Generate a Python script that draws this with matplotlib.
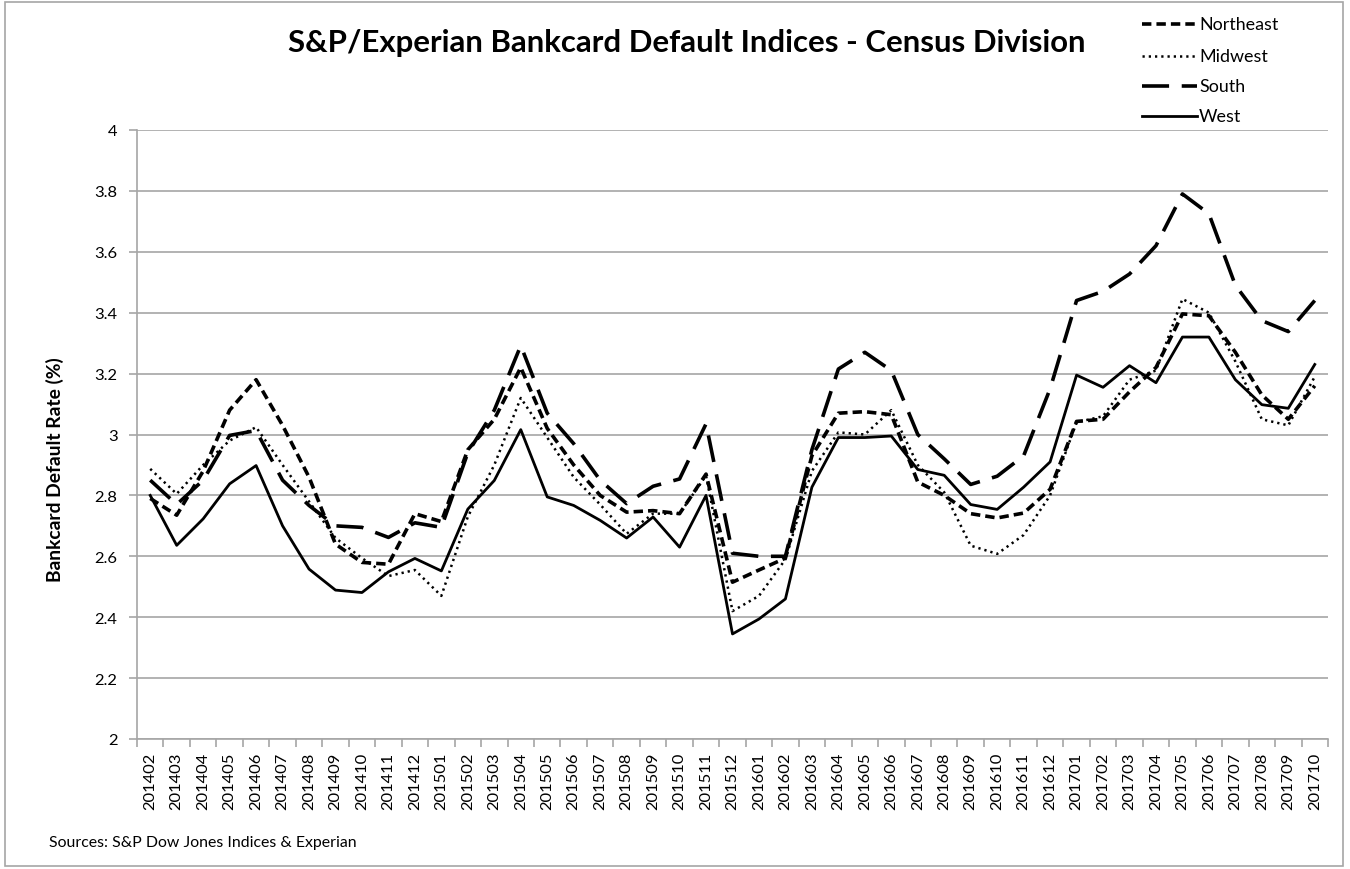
import matplotlib
matplotlib.use("Agg")
import matplotlib.pyplot as plt
from matplotlib.patches import Rectangle
from matplotlib.lines import Line2D

months = ["201402", "201403", "201404", "201405", "201406", "201407", "201408", "201409",
          "201410", "201411", "201412", "201501", "201502", "201503", "201504", "201505",
          "201506", "201507", "201508", "201509", "201510", "201511", "201512", "201601",
          "201602", "201603", "201604", "201605", "201606", "201607", "201608", "201609",
          "201610", "201611", "201612", "201701", "201702", "201703", "201704", "201705",
          "201706", "201707", "201708", "201709", "201710"]

northeast = [2.79, 2.735, 2.88, 3.08, 3.18, 3.03, 2.86, 2.64, 2.58, 2.574, 2.74, 2.714,
             2.95, 3.05, 3.22, 3.02, 2.90, 2.80, 2.745, 2.75, 2.74, 2.87, 2.515, 2.555,
             2.594, 2.93, 3.07, 3.075, 3.065, 2.844, 2.80, 2.74, 2.726, 2.742, 2.82,
             3.043, 3.05, 3.14, 3.22, 3.396, 3.39, 3.27, 3.13, 3.05, 3.16]
midwest = [2.887, 2.805, 2.90, 2.98, 3.024, 2.90, 2.78, 2.66, 2.594, 2.535, 2.555, 2.47,
           2.73, 2.90, 3.12, 2.99, 2.86, 2.77, 2.674, 2.74, 2.74, 2.865, 2.42, 2.47,
           2.59, 2.88, 3.007, 3.0, 3.08, 2.90, 2.81, 2.635, 2.608, 2.67, 2.80,
           3.04, 3.06, 3.18, 3.21, 3.445, 3.40, 3.24, 3.05, 3.03, 3.19]
south = [2.85, 2.77, 2.85, 2.997, 3.013, 2.85, 2.767, 2.70, 2.695, 2.662, 2.71, 2.695,
         2.94, 3.08, 3.292, 3.07, 2.97, 2.85, 2.773, 2.83, 2.854, 3.035, 2.61, 2.60,
         2.60, 2.95, 3.215, 3.27, 3.21, 3.0, 2.92, 2.836, 2.863, 2.93, 3.15,
         3.44, 3.47, 3.527, 3.62, 3.79, 3.725, 3.49, 3.374, 3.338, 3.44]
west = [2.80, 2.636, 2.723, 2.838, 2.898, 2.70, 2.558, 2.489, 2.481, 2.549, 2.593, 2.552,
        2.755, 2.849, 3.016, 2.795, 2.767, 2.718, 2.66, 2.729, 2.63, 2.80, 2.345, 2.394,
        2.46, 2.827, 2.99, 2.99, 2.995, 2.885, 2.866, 2.77, 2.754, 2.827, 2.91,
        3.195, 3.155, 3.226, 3.17, 3.32, 3.32, 3.18, 3.098, 3.086, 3.23]

series = [("Northeast", northeast, dict(lw=2.6, linestyle=(0, (2.6, 1.4)))),
          ("Midwest", midwest, dict(lw=1.8, linestyle=(0, (0.9, 1.6)))),
          ("South", south, dict(lw=2.6, linestyle=(0, (7.5, 3.5)))),
          ("West", west, dict(lw=2.0, linestyle='-'))]

plt.rcParams['font.family'] = ['Lato', 'DejaVu Sans']

W, H = 1350, 870
fig = plt.figure(figsize=(W / 100, H / 100), dpi=100)
ax = fig.add_axes([137 / W, 1 - 740 / H, (1328 - 137) / W, (740 - 131) / H])


def fx(px):
    return px / W


def fy(py):
    return 1 - py / H


x = list(range(len(months)))
for name, vals, style in series:
    ax.plot(x, vals, color='black', label=name, **style)

ax.set_xlim(-0.5, len(months) - 0.5)
ax.set_ylim(2, 4)
yt = [2, 2.2, 2.4, 2.6, 2.8, 3, 3.2, 3.4, 3.6, 3.8, 4]
ax.set_yticks(yt)
ax.set_yticklabels(['%g' % v for v in yt], fontsize=12.5)
ax.yaxis.grid(True, color='#a6a6a6', lw=1.2)
ax.set_axisbelow(True)

ax.set_xticks(x)
ax.set_xticklabels(months, rotation=90, fontsize=12.5)
ax.set_xticks([i - 0.5 for i in range(len(months) + 1)], minor=True)
ax.tick_params(axis='x', which='major', length=0, pad=9)
ax.tick_params(axis='x', which='minor', length=6, color='#a6a6a6', width=1.2)
ax.tick_params(axis='y', length=6, color='#a6a6a6', width=1.2, pad=8)

for side in ['top', 'right']:
    ax.spines[side].set_visible(False)
for side in ['left', 'bottom']:
    ax.spines[side].set_color('#a6a6a6')
    ax.spines[side].set_linewidth(1.2)

ylab = ax.set_ylabel('Bankcard Default Rate (%)', fontsize=13, fontweight='bold', va='center')
ax.yaxis.set_label_coords((55 - 137) / (1328 - 137), (740 - 470) / (740 - 131))

title = fig.text(fx(1085), fy(52), 'S&P/Experian Bankcard Default Indices - Census Division',
                 ha='right', va='baseline', fontsize=23, fontweight='bold')
source = fig.text(fx(49), fy(847), 'Sources: S&P Dow Jones Indices & Experian',
                  ha='left', va='baseline', fontsize=11.5)

# legend drawn by hand, top right corner outside the plot
leg_texts = []
for row, (name, vals, style) in enumerate(series):
    yy = [25, 57, 87, 117][row]
    fig.add_artist(Line2D([fx(1142), fx(1197)], [fy(yy), fy(yy)], color='black', **style))
    leg_texts.append(fig.text(fx(1199), fy(yy), name, ha='left', va='center', fontsize=13))

# scale fonts so text widths match the reference
fig.canvas.draw()
r = fig.canvas.get_renderer()
title.set_fontsize(title.get_fontsize() * 800 / title.get_window_extent(r).width)
source.set_fontsize(source.get_fontsize() * 307 / source.get_window_extent(r).width)
ylab.set_fontsize(ylab.get_fontsize() * 225 / ylab.get_window_extent(r).height)
k = 57 / ax.get_xticklabels()[0].get_window_extent(r).height
for lab in ax.get_xticklabels() + ax.get_yticklabels():
    lab.set_fontsize(lab.get_fontsize() * k)
k = 79 / leg_texts[0].get_window_extent(r).width
for t in leg_texts:
    t.set_fontsize(t.get_fontsize() * k)

fig.patches.append(Rectangle((fx(5), fy(867)), fx(1338), 864 / H, transform=fig.transFigure,
                             fill=False, edgecolor='#a6a6a6', lw=1.2))

fig.savefig('out.png', dpi=100)
